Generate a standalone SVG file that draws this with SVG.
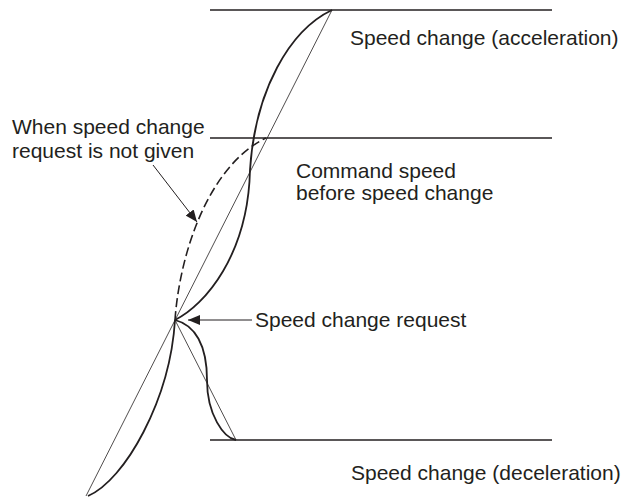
<svg xmlns="http://www.w3.org/2000/svg" width="626" height="497" viewBox="0 0 626 497">
<style>
.lbl{font-family:"Liberation Sans",Arial,sans-serif;font-size:21px;fill:#231f20}
.level{stroke:#231f20;stroke-width:1.3;fill:none}
.thin{stroke:#231f20;stroke-width:0.8;fill:none}
.thick{stroke:#231f20;stroke-width:1.8;fill:none}
.dash{stroke:#231f20;stroke-width:1.6;fill:none;stroke-dasharray:9 4}
.lead{stroke:#231f20;stroke-width:1;fill:none}
</style>
<defs>
<marker id="arr" viewBox="0 0 12 10" refX="12" refY="5" markerWidth="12" markerHeight="10" markerUnits="userSpaceOnUse" orient="auto">
<path d="M0,0 L12,5 L0,10 Z" fill="#231f20"/>
</marker>
</defs>
<g id="levels">
<line class="level" x1="210" y1="10" x2="552" y2="10"/>
<line class="level" x1="210" y1="138" x2="552" y2="138"/>
<line class="level" x1="210" y1="440" x2="552" y2="440"/>
</g>
<g id="connectors">
<line class="thin" x1="86" y1="496" x2="332" y2="10"/>
<line class="thin" x1="175" y1="320" x2="236" y2="440"/>
<path class="thick" d="M88,496 C125,480 170,400 175,320"/>
<path class="thick" d="M175,320 C205,305 248,255 250,170 C255,90 290,30 332,10"/>
<path class="thick" d="M175,320 C195,325 207,345 207,380 C207,415 224,438 236,440"/>
<path class="dash" d="M175,320 C180,250 210,165 266,138"/>
<line class="lead" x1="153" y1="165" x2="197" y2="222" marker-end="url(#arr)"/>
<line class="lead" x1="252" y1="320" x2="188" y2="320" marker-end="url(#arr)"/>
</g>
<g id="label-accel"><text class="lbl" x="350" y="45">Speed change (acceleration)</text></g>
<g id="label-notgiven"><text class="lbl" x="12" y="134">When speed change</text><text class="lbl" x="12" y="158">request is not given</text></g>
<g id="label-command"><text class="lbl" x="296" y="178">Command speed</text><text class="lbl" x="296" y="200">before speed change</text></g>
<g id="label-request"><text class="lbl" x="255" y="327">Speed change request</text></g>
<g id="label-decel"><text class="lbl" x="351" y="480">Speed change (deceleration)</text></g>
</svg>
